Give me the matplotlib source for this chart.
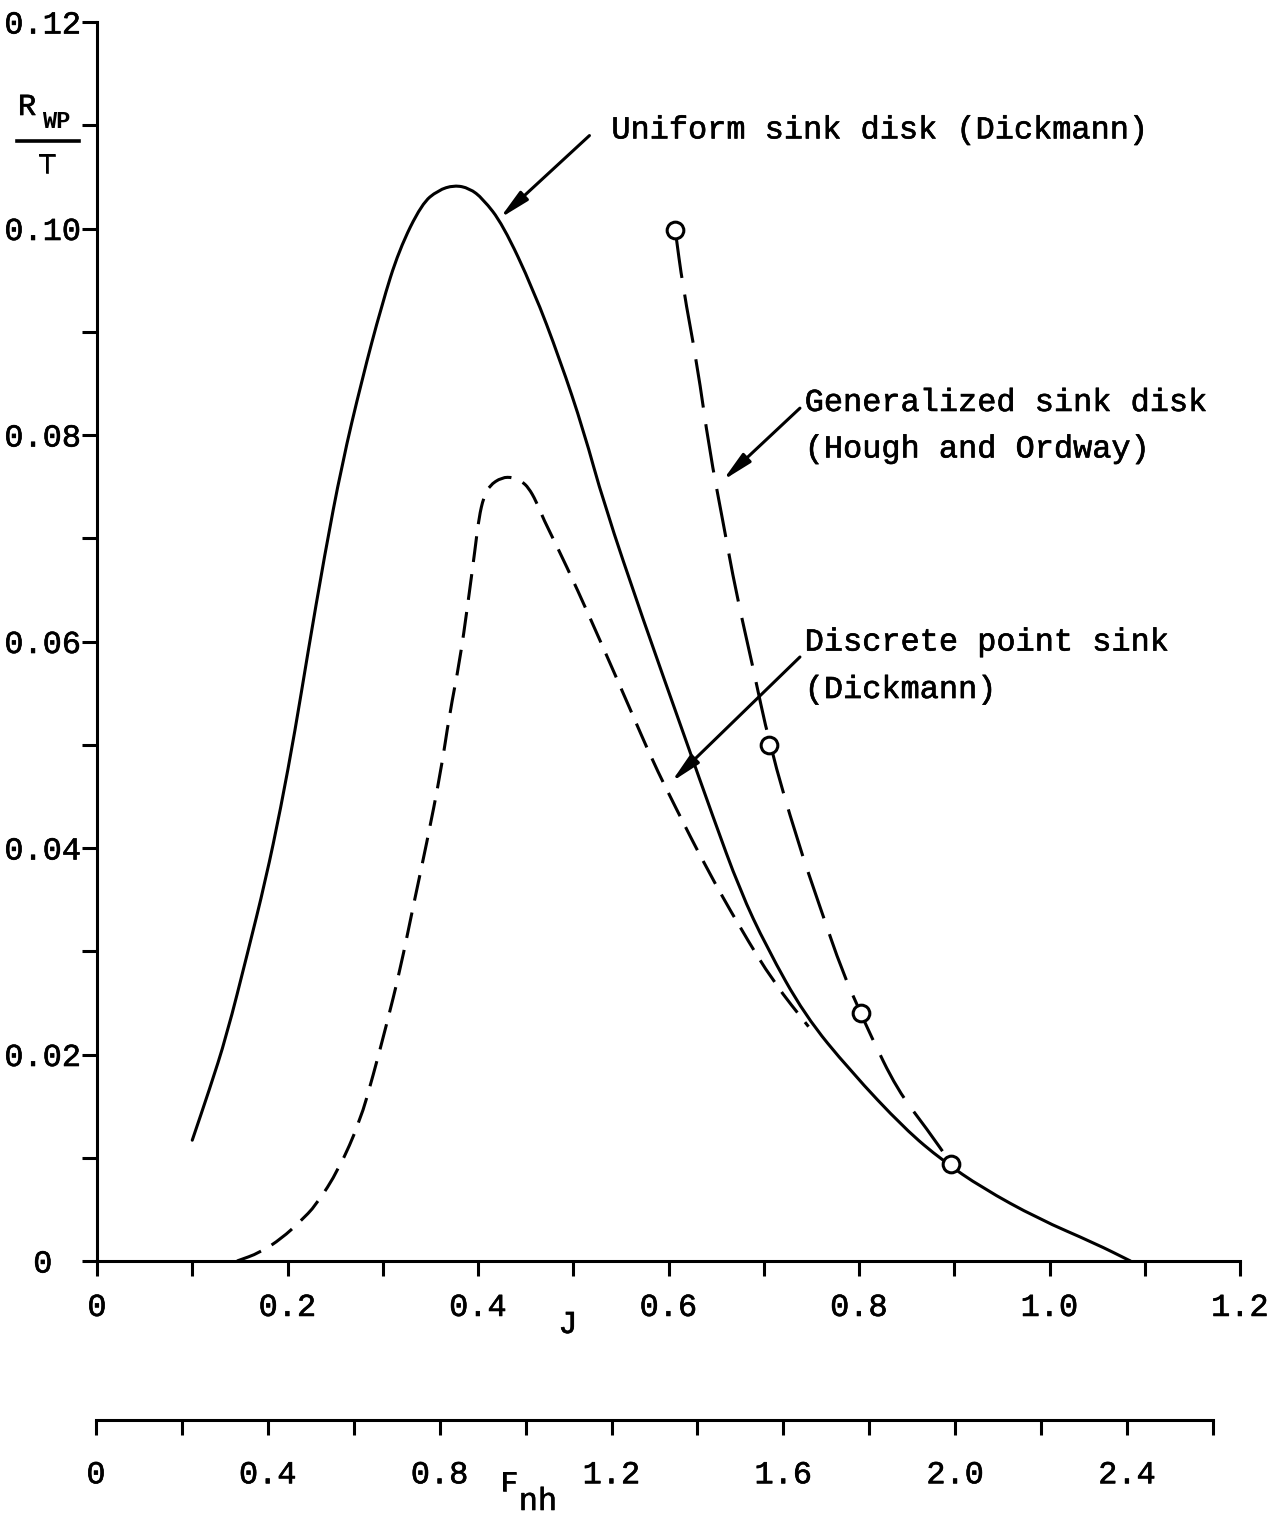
import matplotlib
matplotlib.use("Agg")
import matplotlib.pyplot as plt
import matplotlib.patheffects as pe
from matplotlib.lines import Line2D
from matplotlib.path import Path
from matplotlib.patches import PathPatch

W, H = 1277, 1516
FONT = "Liberation Mono"
plt.rcParams["font.family"] = [FONT, "DejaVu Sans Mono"]

# Uniform sink disk (Dickmann) - solid line
uniform_j = [0.100, 0.118, 0.136, 0.158, 0.177, 0.193, 0.208, 0.221, 0.239, 0.257,
             0.278, 0.299, 0.317, 0.341, 0.358, 0.375, 0.391, 0.405, 0.426, 0.458,
             0.486, 0.511, 0.532, 0.573, 0.618, 0.646, 0.675, 0.703, 0.743, 0.791,
             0.848, 0.888, 0.929, 0.988, 1.048, 1.085]
uniform_r = [0.0117, 0.0166, 0.0218, 0.0298, 0.0369, 0.0439, 0.0514, 0.0587, 0.0684, 0.0771,
             0.0853, 0.0926, 0.0979, 0.1024, 0.1037, 0.1042, 0.1039, 0.1029, 0.1004, 0.0941,
             0.0873, 0.0804, 0.0734, 0.0622, 0.0505, 0.0432, 0.0359, 0.0304, 0.0238, 0.0184,
             0.0128, 0.0097, 0.0071, 0.0041, 0.0017, 0.0]

# Discrete point sink (Dickmann) - short dashes
discrete_j = [0.147, 0.171, 0.194, 0.213, 0.230, 0.254, 0.276, 0.290, 0.304, 0.318,
              0.333, 0.346, 0.361, 0.370, 0.381, 0.389, 0.397, 0.401, 0.406, 0.412,
              0.425, 0.437, 0.446, 0.453, 0.461, 0.469, 0.483, 0.504, 0.532, 0.559,
              0.583, 0.607, 0.639, 0.675, 0.711, 0.747]
discrete_r = [0.0, 0.0008, 0.0022, 0.0038, 0.0054, 0.0089, 0.0135, 0.0180, 0.0229, 0.0281,
              0.0348, 0.0404, 0.0474, 0.0529, 0.0582, 0.0634, 0.0690, 0.0720, 0.0740, 0.0751,
              0.0759, 0.0759, 0.0755, 0.0749, 0.0736, 0.0718, 0.0692, 0.0651, 0.0593, 0.0536,
              0.0485, 0.0440, 0.0382, 0.0323, 0.0269, 0.0227]

# Generalized sink disk (Hough and Ordway) - long dashes through circles
general_j = [0.607, 0.615, 0.630, 0.643, 0.657, 0.671, 0.688, 0.706, 0.735, 0.759,
             0.783, 0.802, 0.811, 0.840, 0.872, 0.897]
general_r = [0.0999, 0.0944, 0.0869, 0.0785, 0.0717, 0.0647, 0.0578, 0.0500, 0.0408, 0.0343,
             0.0279, 0.0240, 0.0221, 0.0166, 0.0127, 0.0094]
general_pts_j = [0.607, 0.706, 0.802, 0.897]
general_pts_r = [0.0999, 0.0500, 0.0240, 0.0094]

j_ticks = [0.0, 0.2, 0.4, 0.6, 0.8, 1.0, 1.2]
j_ticklabels = ["0", "0.2", "0.4", "0.6", "0.8", "1.0", "1.2"]
r_ticks = [0.0, 0.02, 0.04, 0.06, 0.08, 0.10, 0.12]
r_ticklabels = ["0", "0.02", "0.04", "0.06", "0.08", "0.10", "0.12"]
fnh_ticks = [0.0, 0.4, 0.8, 1.2, 1.6, 2.0, 2.4]
fnh_ticklabels = ["0", "0.4", "0.8", "1.2", "1.6", "2.0", "2.4"]


def fx(px):
    return px / W


def fy(py):
    return 1 - py / H


def smooth_curve(ax, xs, ys, **kw):
    # hand-drawn look: read points act as quadratic bezier control points
    pts = list(zip(xs, ys))
    verts = [pts[0]]
    codes = [Path.MOVETO]
    mids = [((a[0] + b[0]) / 2, (a[1] + b[1]) / 2) for a, b in zip(pts[:-1], pts[1:])]
    verts.append(mids[0])
    codes.append(Path.LINETO)
    for p, m in zip(pts[1:-1], mids[1:]):
        verts += [p, m]
        codes += [Path.CURVE3, Path.CURVE3]
    verts.append(pts[-1])
    codes.append(Path.LINETO)
    patch = PathPatch(Path(verts, codes), fill=False, **kw)
    ax.add_patch(patch)
    return patch


LW = 2.2
FS = 23
# typewriter ink is a little heavier than the font outline
INK = [pe.withStroke(linewidth=0.45, foreground="black")]

fig = plt.figure(figsize=(W / 100, H / 100), dpi=100)
fig.patch.set_facecolor("white")

# main axes: J from 0 to 1.2, R/T from 0 to 0.12
ax = fig.add_axes([fx(97), fy(1261), (1240 - 97) / W, (1261 - 22) / H])
ax.set_xlim(0, 1.2)
ax.set_ylim(0, 0.12)
for s in ["top", "right"]:
    ax.spines[s].set_visible(False)
for s in ["left", "bottom"]:
    ax.spines[s].set_linewidth(LW)

ax.set_xticks(j_ticks, j_ticklabels)
ax.set_xticks([0.1, 0.3, 0.5, 0.7, 0.9, 1.1], minor=True)
ax.set_yticks(r_ticks, r_ticklabels)
ax.set_yticks([0.01, 0.03, 0.05, 0.07, 0.09, 0.11], minor=True)
ax.tick_params(which="both", direction="out", length=11, width=LW, labelsize=FS)
ax.tick_params(axis="x", pad=12)
ax.tick_params(axis="y", pad=28)
for lbl in ax.get_yticklabels():
    lbl.set_horizontalalignment("center")
for lbl in ax.get_yticklabels() + ax.get_xticklabels():
    lbl.set_path_effects(INK)

# curves
smooth_curve(ax, uniform_j, uniform_r, edgecolor="black", lw=LW, capstyle="round")
smooth_curve(ax, discrete_j, discrete_r, edgecolor="black", lw=LW, linestyle=(0, (8.5, 4)))
smooth_curve(ax, general_j, general_r, edgecolor="black", lw=LW, linestyle=(0, (16, 5.5)))
ax.plot(general_pts_j, general_pts_r, linestyle="none", marker="o", markersize=12,
        markerfacecolor="white", markeredgecolor="black", markeredgewidth=LW, zorder=5)

# annotations
arrow = dict(arrowstyle="-|>,head_length=0.9,head_width=0.18", lw=LW, color="black",
             shrinkA=0, shrinkB=0, mutation_scale=20)
ax.annotate("", xy=(0.423, 0.101), xytext=(0.517, 0.109), arrowprops=arrow)
ax.annotate("", xy=(0.657, 0.0756), xytext=(0.738, 0.0826), arrowprops=arrow)
ax.annotate("", xy=(0.603, 0.0464), xytext=(0.738, 0.0585), arrowprops=arrow)

notes = [
    (0.540, 0.1095, "Uniform sink disk (Dickmann)"),
    (0.743, 0.0831, "Generalized sink disk"),
    (0.743, 0.0786, "(Hough and Ordway)"),
    (0.743, 0.0599, "Discrete point sink"),
    (0.743, 0.0553, "(Dickmann)"),
]
for x, y, s in notes:
    ax.text(x, y, s, fontsize=FS, va="center", ha="left", path_effects=INK)

# y-axis label R_WP / T
fig.text(fx(27), fy(107), "R", fontsize=22, ha="center", va="center", path_effects=INK)
fig.text(fx(56), fy(122), "WP", fontsize=17, fontweight="bold", ha="center", va="center")
fig.add_artist(Line2D([fx(17), fx(79)], [fy(141), fy(141)], lw=2.6, color="black"))
fig.text(fx(47), fy(165), "T", fontsize=21, ha="center", va="center", path_effects=INK)

# x-axis label J
fig.text(fx(568), fy(1325), "J", fontsize=FS, ha="center", va="center", path_effects=INK)

# secondary Froude number scale
ax2 = fig.add_axes([fx(96), fy(1420), (1213 - 96) / W, 0.0001])
ax2.set_xlim(0, 2.6)
ax2.patch.set_visible(False)
for s in ["top", "right", "left"]:
    ax2.spines[s].set_visible(False)
ax2.spines["bottom"].set_linewidth(LW)
ax2.set_yticks([])
ax2.set_xticks(fnh_ticks, fnh_ticklabels)
ax2.set_xticks([0.2, 0.6, 1.0, 1.4, 1.8, 2.2, 2.6], minor=True)
ax2.tick_params(which="both", direction="out", length=11, width=LW, labelsize=FS, pad=18)
for lbl in ax2.get_xticklabels():
    lbl.set_path_effects(INK)

fig.text(fx(509), fy(1483), "F", fontsize=21, ha="center", va="center", path_effects=INK)
fig.text(fx(538), fy(1502), "nh", fontsize=FS, ha="center", va="center", path_effects=INK)

fig.savefig("out.png", dpi=100, facecolor="white")
